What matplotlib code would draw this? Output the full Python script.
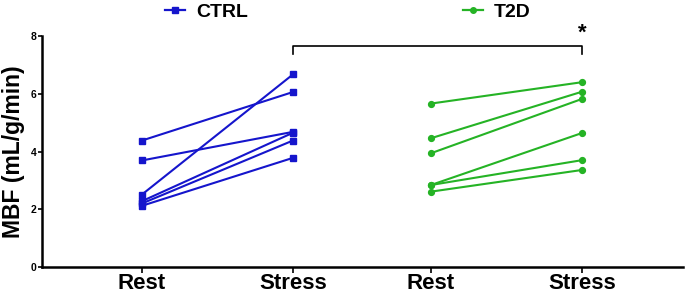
import matplotlib
matplotlib.use("Agg")
import matplotlib.pyplot as plt
from matplotlib.lines import Line2D

plt.rcParams['font.family'] = ['Liberation Sans', 'DejaVu Sans']
plt.rcParams['font.weight'] = 'bold'

conditions = ["Rest", "Stress"]
groups = ["CTRL", "T2D"]
ctrl_rest = [4.38, 3.69, 2.51, 2.28, 2.20, 2.12]
ctrl_stress = [6.06, 4.68, 6.67, 4.65, 4.38, 3.78]
t2d_rest = [5.66, 4.46, 3.94, 2.84, 2.84, 2.61]
t2d_stress = [6.40, 6.07, 5.82, 4.64, 3.70, 3.36]
y_ticks = [0, 2, 4, 6, 8]

blue = "#1515cc"
green = "#25b325"

fig = plt.figure(figsize=(6.85, 2.97), dpi=100)
ax = fig.add_axes([42/685, 30/297, 641/685, 231/297])

ctrl_x = [1.0, 2.0]
t2d_x = [2.914, 3.914]

for r, s in zip(ctrl_rest, ctrl_stress):
    ax.plot(ctrl_x, [r, s], color=blue, lw=1.5, marker='s', ms=4.2, clip_on=False)
for r, s in zip(t2d_rest, t2d_stress):
    ax.plot(t2d_x, [r, s], color=green, lw=1.5, marker='o', ms=4.2, clip_on=False)

ax.set_xlim(0.338, 4.583)
ax.set_ylim(0, 8)
ax.set_yticks(y_ticks)
ax.set_yticklabels([str(v) for v in y_ticks], fontsize=7.5, fontweight='bold')
ax.set_xticks(ctrl_x + t2d_x)
ax.set_xticklabels(conditions + conditions, fontsize=16, fontweight='bold')
ax.tick_params(axis='x', length=4, width=1.2, pad=0.5)
ax.tick_params(axis='y', length=3, width=1.2, pad=1)
for side in ['top', 'right']:
    ax.spines[side].set_visible(False)
for side in ['left', 'bottom']:
    ax.spines[side].set_linewidth(1.8)
ax.set_ylabel("MBF (mL/g/min)", fontsize=16.5, fontweight='bold', labelpad=4)

# significance bracket
ax.plot([ctrl_x[1], ctrl_x[1], t2d_x[1], t2d_x[1]], [7.37, 7.66, 7.66, 7.37],
        color='black', lw=1.2, clip_on=False)
ax.text(t2d_x[1], 7.72, "*", ha='center', va='bottom', fontsize=16, fontweight='bold')

# legend
handles = [Line2D([0], [0], color=blue, lw=1.6, marker='s', ms=4),
           Line2D([0], [0], color=green, lw=1.6, marker='o', ms=4)]
for h, g, x0 in zip(handles, groups, [165, 463]):
    fig.legend([h], [g], loc='center left', bbox_to_anchor=(x0/685, 1 - 12/297),
               frameon=False, prop={'size': 14, 'weight': 'bold'}, handlelength=1.05,
               handletextpad=0.55, borderpad=0, borderaxespad=0)

fig.savefig("out.png", dpi=100)
